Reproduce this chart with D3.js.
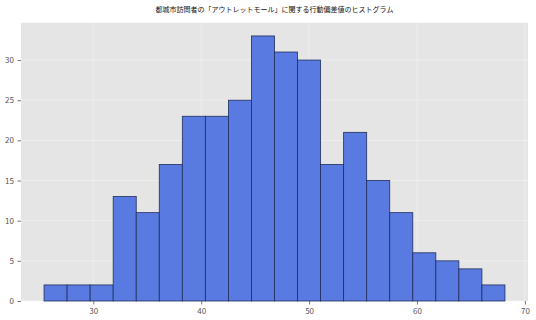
<!DOCTYPE html>
<html><head><meta charset="utf-8">
<script src="https://cdn.jsdelivr.net/npm/d3@7"></script>
<style>
body{margin:0;background:#fff;}
text{font-family:"Noto Sans CJK JP","DejaVu Sans",sans-serif;}
</style></head>
<body><svg id="c" width="536" height="320"></svg>
<script>
const title = "都城市訪問者の「アウトレットモール」に関する行動偏差値のヒストグラム";
const binMin = 25.44;
const binMax = 68.15;
const counts = [2,2,2,13,11,17,23,23,25,33,31,30,17,21,15,11,6,5,4,2];
const xTicks = [30,40,50,60,70];
const yTicks = [0,5,10,15,20,25,30];

const svg = d3.select("#c");
const m = {l:21, r:8, t:22.7, b:19};
const W = 536, H = 320;
const bw = (binMax - binMin) / counts.length;
const pad = (binMax - binMin) * 0.05;
const x = d3.scaleLinear().domain([binMin - pad, binMax + pad]).range([m.l, W - m.r]);
const yMax = d3.max(counts) * 1.05;
const y = d3.scaleLinear().domain([0, yMax]).range([H - m.b, m.t]);

svg.append("rect").attr("x", m.l).attr("y", m.t)
  .attr("width", W - m.r - m.l).attr("height", H - m.b - m.t).attr("fill", "#E5E5E5");

// grid
svg.append("g").selectAll("line").data(yTicks).join("line")
  .attr("x1", m.l).attr("x2", W - m.r).attr("y1", d => y(d)).attr("y2", d => y(d))
  .attr("stroke", "#fff").attr("stroke-opacity", 0.45).attr("stroke-width", 0.8);
svg.append("g").selectAll("line").data(xTicks).join("line")
  .attr("y1", m.t).attr("y2", H - m.b).attr("x1", d => x(d)).attr("x2", d => x(d))
  .attr("stroke", "#fff").attr("stroke-opacity", 0.45).attr("stroke-width", 0.8);

// bars
const bins = counts.map((c, i) => ({x0: binMin + i * bw, x1: binMin + (i + 1) * bw, c}));
svg.append("g").selectAll("rect").data(bins).join("rect")
  .attr("x", d => x(d.x0)).attr("width", d => x(d.x1) - x(d.x0))
  .attr("y", d => y(d.c)).attr("height", d => y(0) - y(d.c))
  .attr("fill", "#597BE1").attr("stroke", "#1f2d5c").attr("stroke-width", 0.8);

// axes
const xa = svg.append("g").attr("transform", `translate(0,${H - m.b})`)
  .call(d3.axisBottom(x).tickValues(xTicks).tickSize(3.5).tickPadding(3.5));
const ya = svg.append("g").attr("transform", `translate(${m.l},0)`)
  .call(d3.axisLeft(y).tickValues(yTicks).tickSize(3.5).tickPadding(3.5));
[xa, ya].forEach(a => {
  a.select(".domain").remove();
  a.selectAll(".tick line").attr("stroke", "#555").attr("stroke-width", 0.8);
  a.selectAll(".tick text").attr("fill", "#555").attr("font-size", 8)
    .attr("font-family", "'DejaVu Sans', sans-serif");
});

svg.append("text").attr("x", (m.l + W - m.r) / 2).attr("y", 12)
  .attr("text-anchor", "middle").attr("font-size", 7).attr("fill", "#111")
  .text(title);
</script></body></html>
